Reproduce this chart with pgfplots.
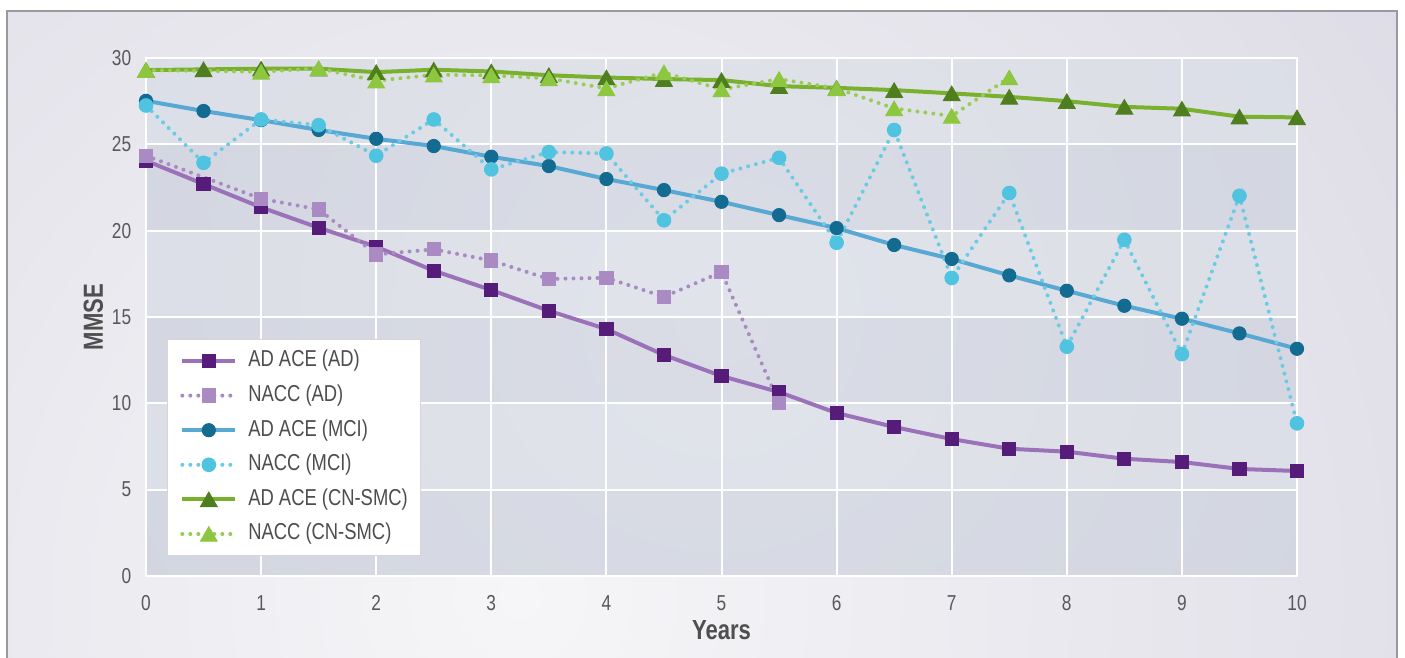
\documentclass[border=0pt]{standalone}
\usepackage{pgfplots}
\pgfplotsset{compat=1.18}
\usepackage{fontspec}
\setmainfont{Liberation Sans}[FakeStretch=0.8]
\definecolor{bgin}{HTML}{F6F6F8}
\definecolor{bgout}{HTML}{C9C5D6}
\definecolor{pain}{HTML}{DADDE6}
\definecolor{paout}{HTML}{C8CCD8}
\definecolor{framegray}{HTML}{9A9A9E}
\definecolor{tickgray}{HTML}{585858}
\definecolor{labelgray}{HTML}{4F4F4F}
\definecolor{legendtext}{HTML}{4D4D4D}
\definecolor{legendgray}{HTML}{D6D6D6}
\definecolor{adline}{HTML}{9B72B9}
\definecolor{admark}{HTML}{561C7A}
\definecolor{nacad}{HTML}{A98AC3}
\definecolor{mciline}{HTML}{57A8D3}
\definecolor{mcimark}{HTML}{136B91}
\definecolor{nacmci}{HTML}{4FC3DF}
\definecolor{nacmciline}{HTML}{6CCBE4}
\definecolor{cnline}{HTML}{79B12F}
\definecolor{cnmark}{HTML}{4F7E1F}
\definecolor{naccn}{HTML}{8DC63F}
\definecolor{naccnline}{HTML}{98CC55}
\begin{document}
\begin{tikzpicture}[x=1pt,y=1pt]
\useasboundingbox (0,0) rectangle (702.5,329);
\begin{scope}
\clip (0,0) rectangle (702.5,329);
\begin{scope}
\clip (3.5,-10) rectangle (698.5,323.5);
\shade[inner color=bgin, outer color=bgout] (260,30) circle (1000);
\end{scope}
\draw[framegray, line width=1.25pt] (3.5,-10) rectangle (698.5,323.5);
\end{scope}
% plot area background
\begin{scope}
\clip (73,41) rectangle (648.5,300);
\shade[inner color=pain, outer color=paout] (360.75,170.5) circle (800);
\fill[white, opacity=0.2] (73,84.1667) rectangle (648.5,127.3333);
\fill[white, opacity=0.2] (73,170.5) rectangle (648.5,213.6667);
\fill[white, opacity=0.2] (73,256.8333) rectangle (648.5,300);
\end{scope}
\begin{axis}[
  at={(73pt,41pt)}, anchor=south west,
  scale only axis, width=575.5pt, height=259pt,
  xmin=0, xmax=10, ymin=0, ymax=30,
  xtick={0,1,...,10}, ytick={0,5,...,30},
  clip=false,
  grid=major, grid style={white, line width=1pt},
  axis line style={white, line width=1pt},
  major tick length=0pt,
  tick label style={font=\fontsize{10.8}{12}\selectfont, text=tickgray},
  /pgf/number format/assume math mode=true,
  xticklabel style={anchor=north, inner sep=0pt, yshift=-9.5pt},
  yticklabel style={anchor=east, inner sep=0pt, xshift=-7.2pt},
  xlabel={Years}, ylabel={MMSE},
  label style={font=\bfseries\fontsize{13.8}{16}\selectfont, text=labelgray, inner sep=0pt},
  xlabel style={at={(axis description cs:0.5,-0.1222)}, anchor=base},
  ylabel style={at={(axis description cs:-0.0374,0.5)}, anchor=base},
  legend cell align=left,
  legend style={at={(0.018,0.0386)}, anchor=south west, fill=white, draw=legendgray,
    line width=0.6pt, inner xsep=6.5pt, inner ysep=4.7pt,
    font=\fontsize{11.5}{13}\selectfont, text=legendtext,
    row sep=5.3pt, /tikz/column sep=5.5pt,
    nodes={inner sep=0pt, text height=9pt, text depth=3pt}},
  legend image code/.code={\draw[mark repeat=2,mark phase=2,#1] plot coordinates {(0pt,0pt) (13.25pt,0pt) (26.5pt,0pt)};},
]
\addplot[color=adline, line width=2pt, mark=square*, mark size=3.3pt,
  mark options={solid, fill=admark, draw=admark, line width=0.5pt}] coordinates {
(0,24.05)(0.5,22.7)(1,21.35)(1.5,20.17)(2,19.07)(2.5,17.68)(3,16.56)(3.5,15.36)(4,14.3)(4.5,12.8)(5,11.58)(5.5,10.65)(6,9.44)(6.5,8.63)(7,7.93)(7.5,7.37)(8,7.2)(8.5,6.79)(9,6.6)(9.5,6.2)(10,6.08)};
\addlegendentry{AD ACE (AD)}
\addplot[color=nacad, line width=2pt, dash pattern=on 0pt off 4pt, line cap=round, mark=square*, mark size=3.3pt,
  mark options={solid, fill=nacad, draw=nacad, line width=0.5pt}] coordinates {
(0,24.34)(1,21.85)(1.5,21.23)(2,18.62)(2.5,18.92)(3,18.27)(3.5,17.2)(4,17.27)(4.5,16.17)(5,17.6)(5.5,10.03)};
\addlegendentry{NACC (AD)}
\addplot[color=mciline, line width=2pt, mark=*, mark size=3.3pt,
  mark options={solid, fill=mcimark, draw=mcimark, line width=0.5pt}] coordinates {
(0,27.52)(0.5,26.93)(1,26.4)(1.5,25.83)(2,25.32)(2.5,24.9)(3,24.28)(3.5,23.74)(4,22.99)(4.5,22.35)(5,21.67)(5.5,20.9)(6,20.15)(6.5,19.17)(7,18.36)(7.5,17.41)(8,16.52)(8.5,15.65)(9,14.9)(9.5,14.05)(10,13.16)};
\addlegendentry{AD ACE (MCI)}
\addplot[color=nacmciline, line width=2pt, dash pattern=on 0pt off 4pt, line cap=round, mark=*, mark size=3.4pt,
  mark options={solid, fill=nacmci, draw=nacmci, line width=0.5pt}] coordinates {
(0,27.25)(0.5,23.93)(1,26.44)(1.5,26.11)(2,24.34)(2.5,26.44)(3,23.55)(3.5,24.55)(4,24.47)(4.5,20.6)(5,23.3)(5.5,24.22)(6,19.3)(6.5,25.83)(7,17.26)(7.5,22.18)(8,13.28)(8.5,19.47)(9,12.85)(9.5,22.02)(10,8.84)};
\addlegendentry{NACC (MCI)}
\addplot[color=cnline, line width=2pt, mark=triangle*, mark size=4.8pt,
  mark options={solid, fill=cnmark, draw=cnmark, line width=0.5pt, yshift=-1.2pt}] coordinates {
(0,29.3)(0.5,29.34)(1,29.38)(1.5,29.38)(2,29.18)(2.5,29.32)(3,29.22)(3.5,29.0)(4,28.87)(4.5,28.78)(5,28.72)(5.5,28.37)(6,28.27)(6.5,28.14)(7,27.95)(7.5,27.75)(8,27.5)(8.5,27.17)(9,27.06)(9.5,26.6)(10,26.56)};
\addlegendentry{AD ACE (CN-SMC)}
\addplot[color=naccnline, line width=2pt, dash pattern=on 0pt off 4pt, line cap=round, mark=triangle*, mark size=4.8pt,
  mark options={solid, fill=naccn, draw=naccn, line width=0.5pt, yshift=-1.2pt}] coordinates {
(0,29.3)(1,29.2)(1.5,29.4)(2,28.68)(2.5,29.03)(3,28.99)(3.5,28.82)(4,28.24)(4.5,29.16)(5,28.18)(5.5,28.78)(6,28.24)(6.5,27.08)(7,26.64)(7.5,28.87)};
\addlegendentry{NACC (CN-SMC)}
\end{axis}
\end{tikzpicture}
\end{document}
